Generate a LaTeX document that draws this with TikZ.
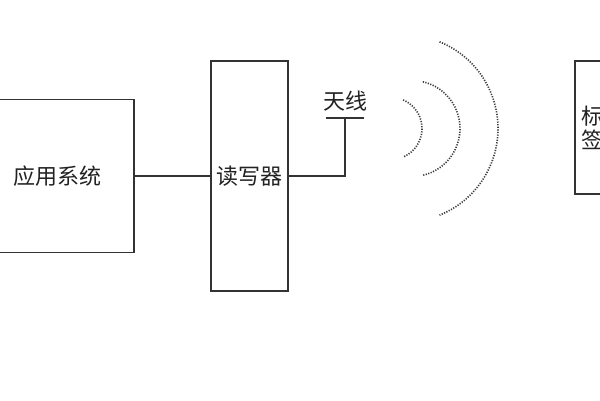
\documentclass[tikz,border=0pt]{standalone}
\usepackage{fontspec}
\newfontfamily\cjk{Noto Sans CJK SC}
\usepackage{xcolor}
\usepackage{tikz}
\usetikzlibrary{positioning, calc}
\definecolor{edgegray}{RGB}{51,51,51}
\definecolor{textgray}{RGB}{34,34,34}
\definecolor{wavegray}{RGB}{60,60,60}

\tikzset{
    unitbox/.style={draw=edgegray, line width=1.8pt, fill=white, rectangle, inner sep=0pt,
        font=\cjk\fontsize{22}{24}\selectfont, text=textgray},
    wire/.style={draw=edgegray, line width=1.3pt},
    wave/.style={draw=wavegray, line width=1.6pt, dash pattern=on 1.2pt off 1.4pt}
}

\begin{document}
\begin{tikzpicture}[x=1pt, y=-1pt]
    % Canvas
    \fill[white] (0,0) rectangle (600,400);
    \useasboundingbox (0,0) rectangle (600,400);
    \clip (0,0) rectangle (600,400);

    % Blocks
    \node[unitbox, minimum width=154pt, minimum height=153pt] (app) at (57,176) {应用系统};
    \node[unitbox, minimum width=77pt, minimum height=230pt] (reader) at (249.5,176) {读写器};
    \node[unitbox, minimum width=34pt, minimum height=133pt, align=center] (tag) at (592,127.5) {标\\签};

    % Antenna
    \coordinate (antL) at (326,118);
    \coordinate (antR) at (364,118);
    \coordinate (antfeed) at ($(antL)!0.5!(antR)$);
    \node[font=\cjk\fontsize{22}{24}\selectfont, text=textgray, above=3pt of antfeed] (antlabel) {天线};

    % Connectors
    \draw[wire] (app.east) -- (reader.west);
    \draw[wire] (reader.east) -| (antfeed);
    \draw[wire] (antL) -- (antR);

    % Waves
    \draw[wave] (391,128.5) ++(-67:31) arc (-67:67:31);
    \draw[wave] (412,128.5) ++(-77:48) arc (-77:77:48);
    \draw[wave] (404.5,128.5) ++(-68:93.5) arc (-68:68:93.5);
\end{tikzpicture}
\end{document}
